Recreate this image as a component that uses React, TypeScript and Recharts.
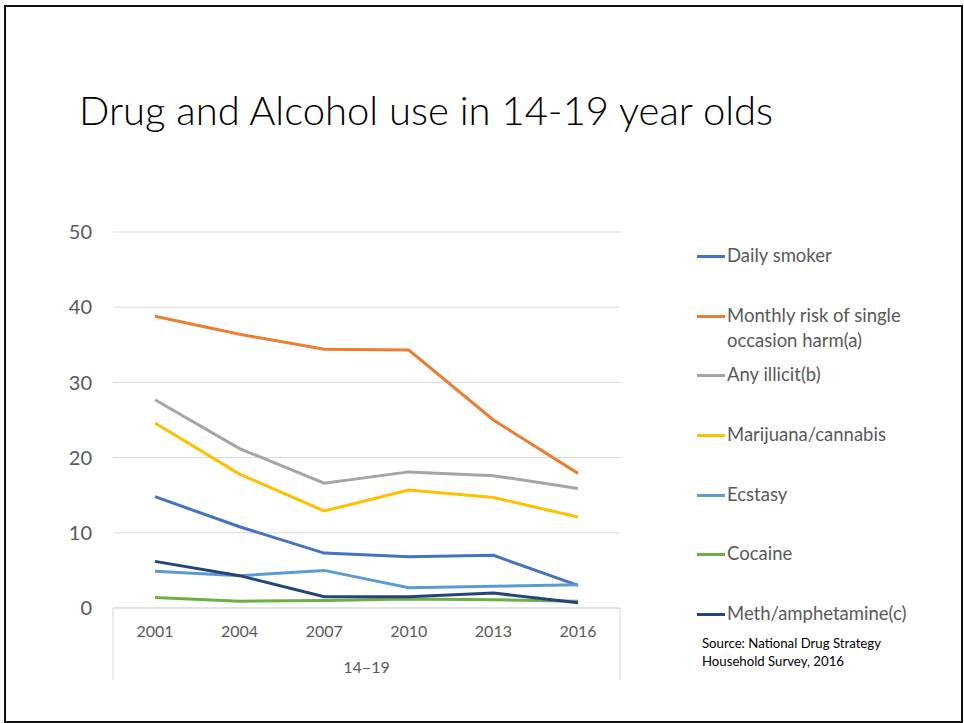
import React from 'react';
import { LineChart, Line, XAxis, YAxis, CartesianGrid } from 'recharts';

const years = ['2001', '2004', '2007', '2010', '2013', '2016'];
const dailySmoker = [14.8, 10.8, 7.3, 6.8, 7.0, 3.0];
const monthlyRisk = [38.8, 36.4, 34.4, 34.3, 25.0, 17.9];
const anyIllicit = [27.7, 21.2, 16.6, 18.1, 17.6, 15.9];
const marijuana = [24.6, 17.8, 12.9, 15.7, 14.7, 12.1];
const ecstasy = [4.9, 4.3, 5.0, 2.7, 2.9, 3.1];
const cocaine = [1.4, 0.9, 1.0, 1.2, 1.1, 0.9];
const meth = [6.2, 4.3, 1.5, 1.5, 2.0, 0.7];
const yTicks = [0, 10, 20, 30, 40, 50];
const groupLabel = '14–19';

const series = [
  { key: 'daily', name: 'Daily smoker', values: dailySmoker, color: '#4472C4' },
  { key: 'monthly', name: 'Monthly risk of single occasion harm(a)', values: monthlyRisk, color: '#ED7D31' },
  { key: 'illicit', name: 'Any illicit(b)', values: anyIllicit, color: '#A5A5A5' },
  { key: 'marijuana', name: 'Marijuana/cannabis', values: marijuana, color: '#FFC000' },
  { key: 'ecstasy', name: 'Ecstasy', values: ecstasy, color: '#5B9BD5' },
  { key: 'cocaine', name: 'Cocaine', values: cocaine, color: '#70AD47' },
  { key: 'meth', name: 'Meth/amphetamine(c)', values: meth, color: '#264478' },
];

const data = years.map((year, i) => {
  const row: Record<string, string | number> = { year };
  series.forEach((s) => {
    row[s.key] = s.values[i];
  });
  return row;
});

const FONT = 'Lato, "Open Sans", sans-serif';
const GREY_TEXT = '#595959';

// box around the category axis, plus the group label underneath
function AxisBox(props: any) {
  const vb = props.viewBox || {};
  const x = vb.x ?? 0;
  const y = vb.y ?? 0;
  const w = vb.width ?? 0;
  const h = vb.height ?? 0;
  return (
    <g>
      <line x1={x} y1={y} x2={x} y2={y + h} stroke="#D9D9D9" />
      <line x1={x + w} y1={y} x2={x + w} y2={y + h} stroke="#D9D9D9" />
      <text x={x + w / 2} y={y + 65} textAnchor="middle" fill={GREY_TEXT} fontSize={16} fontFamily={FONT}>
        {groupLabel}
      </text>
    </g>
  );
}

export default function App() {
  return (
    <div style={{ position: 'absolute', left: 0, top: 0, width: 964, height: 723, background: '#fff', fontFamily: FONT }}>
      {/* slide frame */}
      <div
        style={{
          position: 'absolute',
          left: 4,
          top: 5,
          width: 959,
          height: 718,
          border: '2px solid #111',
          boxSizing: 'border-box',
        }}
      />
      <div
        style={{
          position: 'absolute',
          left: 79,
          top: 90,
          fontSize: 40,
          lineHeight: 1,
          fontWeight: 300,
          color: '#000',
          whiteSpace: 'nowrap',
        }}
      >
        Drug and Alcohol use in 14-19 year olds
      </div>

      <div style={{ position: 'absolute', left: 0, top: 0 }}>
        <LineChart width={964} height={723} data={data} margin={{ top: 232, right: 344, bottom: 43, left: 53 }}>
          <CartesianGrid vertical={false} stroke="#D9D9D9" />
          <XAxis
            dataKey="year"
            height={72}
            padding={{ left: 42, right: 42 }}
            axisLine={{ stroke: '#D9D9D9' }}
            tickLine={false}
            tickMargin={12}
            tick={{ fill: GREY_TEXT, fontSize: 16, fontFamily: FONT }}
            label={(p: any) => <AxisBox {...p} />}
          />
          <YAxis
            width={60}
            domain={[0, 50]}
            ticks={yTicks}
            axisLine={false}
            tickLine={false}
            tickMargin={15}
            tick={{ fill: GREY_TEXT, fontSize: 20, fontFamily: FONT }}
          />
          {series.map((s) => (
            <Line
              key={s.key}
              type="linear"
              dataKey={s.key}
              name={s.name}
              stroke={s.color}
              strokeWidth={3}
              dot={false}
              activeDot={false}
              isAnimationActive={false}
            />
          ))}
        </LineChart>
      </div>

      {/* legend */}
      <div style={{ position: 'absolute', left: 697, top: 243 }}>
        {series.map((s) => (
          <div key={s.key} style={{ height: 59.7, display: 'flex', alignItems: 'flex-start' }}>
            <div style={{ width: 28, height: 3, background: s.color, marginTop: 12, flexShrink: 0 }} />
            <div style={{ marginLeft: 2, width: 210, fontSize: 18.5, lineHeight: '25px', color: GREY_TEXT }}>
              {s.name}
            </div>
          </div>
        ))}
      </div>

      <div style={{ position: 'absolute', left: 702, top: 634, fontSize: 13.2, lineHeight: '18px', color: '#000' }}>
        Source: National Drug Strategy
        <br />
        Household Survey, 2016
      </div>
    </div>
  );
}
